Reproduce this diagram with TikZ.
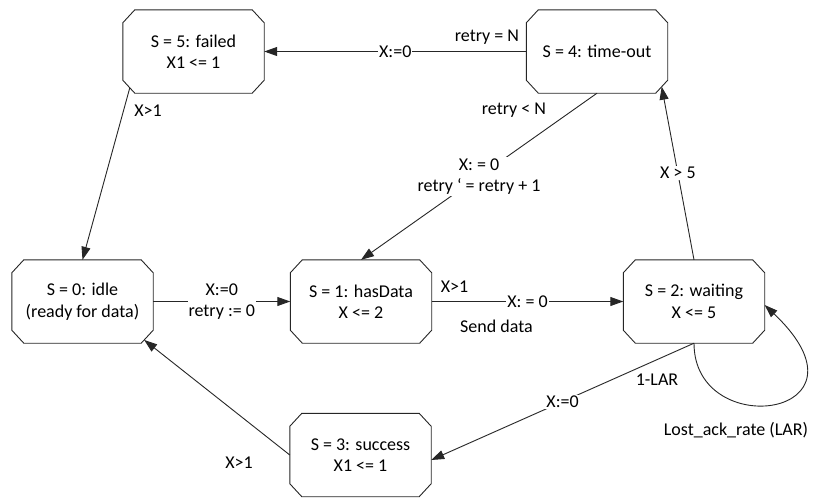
\documentclass[tikz,border=0pt]{standalone}
\usepackage{fontspec}
\setmainfont{Carlito}
\usetikzlibrary{arrows.meta,calc}
\begin{document}
\begin{tikzpicture}[x=1pt,y=-1pt,
  every node/.style={font=\fontsize{18}{21.5}\selectfont, align=center},
  state/.style={rectangle, minimum width=141pt, minimum height=83pt, inner sep=0pt},
  outline/.style={draw=black!85, line width=0.9pt, line join=miter},
  edge/.style={draw=black!85, line width=0.9pt,
    -{Triangle[length=13pt,width=9pt]}},
  lab/.style={fill=white, inner sep=1pt}]
\useasboundingbox (0,0) rectangle (814,499);

% states
\node[state] (n5) at (193.5,51.5) {S = 5: failed\\X1 <= 1};
\node[state] (n4) at (597,51.5) {S = 4: time-out};
\node[state] (n0) at (82.5,301.5) {S = 0: idle\\(ready for data)};
\node[state] (n1) at (361,301.5) {S = 1: hasData\\X <= 2};
\node[state] (n2) at (694,301.5) {S = 2: waiting\\X <= 5};
\node[state] (n3) at (360.5,455) {S = 3: success\\X1 <= 1};

% octagonal outlines with cut corners
\foreach \n in {n0,n1,n2,n3,n4,n5}
  \draw[outline] ($(\n.north west)+(12,0)$) -- ($(\n.north east)+(-12,0)$)
    -- ($(\n.north east)+(0,13)$) -- ($(\n.south east)+(0,-13)$)
    -- ($(\n.south east)+(-12,0)$) -- ($(\n.south west)+(12,0)$)
    -- ($(\n.south west)+(0,-13)$) -- ($(\n.north west)+(0,13)$) -- cycle;

% transitions
\draw[edge] (n4.west) -- node[lab]{X:=0} (n5.east);
\draw[edge] ($(n5.south west)+(7,-5.4)$) -- (n0.north);
\draw[edge] (n4.south) -- node[lab]{X: = 0\\retry ‘ = retry + 1} (n1.north);
\draw[edge] (n0.east) -- node[lab]{X:=0\\retry := 0} (n1.west);
\draw[edge] (n1.east) -- node[lab]{X: = 0} (n2.west);
\draw[edge] (n2.north) -- node[lab]{X > 5} ($(n4.south east)+(-6,-6.5)$);
\draw[edge] (n2.south) -- node[lab]{X:=0} ($(n3.east)+(0,5)$);
\draw[edge] (n3.west) -- ($(n0.south east)+(-9,-3.25)$);
\draw[edge] (n2.south) .. controls +(0,100) and +(118,112) .. ($(n2.east)+(0,3.5)$);

% guard and action texts
\node (g1) at (487,36.7) {retry = N};
\node (g2) at (148,111) {X>1};
\node (g3) at (514,110) {retry < N};
\node (g4) at (454.5,287) {X>1};
\node (g5) at (496.5,326) {Send data};
\node (g6) at (657,380) {1-LAR};
\node (g7) at (239,463) {X>1};
\node (g8) at (736,430) {Lost\_ack\_rate (LAR)};
\end{tikzpicture}
\end{document}
